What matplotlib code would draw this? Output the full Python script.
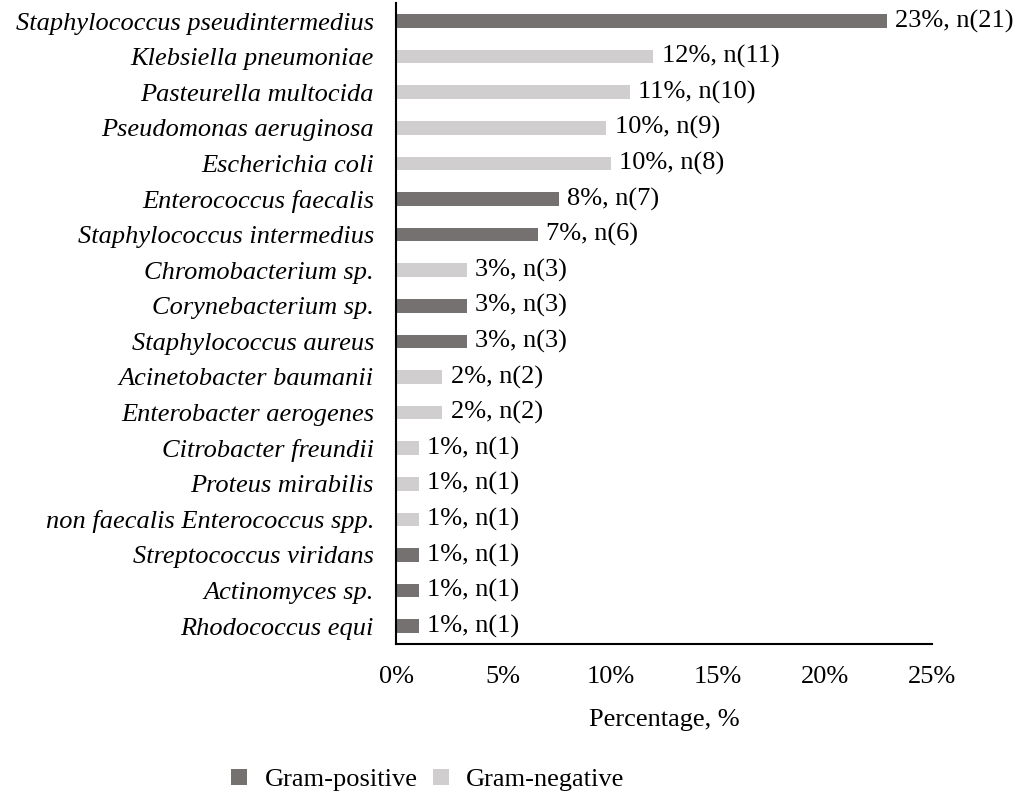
import matplotlib
matplotlib.use("Agg")
import matplotlib.pyplot as plt
from matplotlib.patches import Patch

# Isolates ordered top to bottom
species = [
    "Staphylococcus pseudintermedius",
    "Klebsiella pneumoniae",
    "Pasteurella multocida",
    "Pseudomonas aeruginosa",
    "Escherichia coli",
    "Enterococcus faecalis",
    "Staphylococcus intermedius",
    "Chromobacterium sp.",
    "Corynebacterium sp.",
    "Staphylococcus aureus",
    "Acinetobacter baumanii",
    "Enterobacter aerogenes",
    "Citrobacter freundii",
    "Proteus mirabilis",
    "non faecalis Enterococcus spp.",
    "Streptococcus viridans",
    "Actinomyces sp.",
    "Rhodococcus equi",
]
percent = [22.9, 12.0, 10.9, 9.8, 10.0, 7.6, 6.6, 3.3, 3.3, 3.3,
           2.15, 2.15, 1.07, 1.07, 1.07, 1.07, 1.07, 1.07]
counts = [21, 11, 10, 9, 8, 7, 6, 3, 3, 3, 2, 2, 1, 1, 1, 1, 1, 1]
gram = ["pos", "neg", "neg", "neg", "neg", "pos", "pos", "neg", "pos", "pos",
        "neg", "neg", "neg", "neg", "neg", "pos", "pos", "pos"]
value_labels = ["23%", "12%", "11%", "10%", "10%", "8%", "7%", "3%", "3%", "3%",
                "2%", "2%", "1%", "1%", "1%", "1%", "1%", "1%"]
xticks = [0, 5, 10, 15, 20, 25]
xtick_labels = ["0%", "5%", "10%", "15%", "20%", "25%"]

POS_COLOR = "#767171"
NEG_COLOR = "#D0CECE"
FS = 19

plt.rcParams["font.family"] = ["Liberation Serif", "DejaVu Serif"]

fig = plt.figure(figsize=(10.29, 8.09), dpi=100)
ax = fig.add_axes([0.385, 0.204, 0.5209, 0.792])

ypos = list(range(len(species)))[::-1]
colors = [POS_COLOR if g == "pos" else NEG_COLOR for g in gram]
ax.barh(ypos, percent, height=0.38, color=colors, zorder=2)

for y, v, lab, n in zip(ypos, percent, value_labels, counts):
    ax.annotate(f"{lab}, n({n})", xy=(v, y), xytext=(6, 0),
                textcoords="offset points", va="center", ha="left",
                fontsize=FS, clip_on=False, annotation_clip=False)

ax.set_xlim(0, 25)
ax.set_ylim(-0.5, len(species) - 0.5)
ax.set_yticks(ypos)
ax.set_yticklabels(species, fontstyle="italic", fontsize=FS)
ax.set_xticks(xticks)
ax.set_xticklabels(xtick_labels, fontsize=FS)
ax.tick_params(axis="both", length=0)
ax.tick_params(axis="y", pad=16)
ax.tick_params(axis="x", pad=16)
ax.set_xlabel("Percentage, %", fontsize=FS, labelpad=15)

for side in ("top", "right"):
    ax.spines[side].set_visible(False)
for side in ("left", "bottom"):
    ax.spines[side].set_linewidth(1.5)
    ax.spines[side].set_color("black")

handles = [Patch(facecolor=POS_COLOR, label="Gram-positive"),
           Patch(facecolor=NEG_COLOR, label="Gram-negative")]
fig.legend(handles=handles, loc="center", bbox_to_anchor=(428 / 1029, 1 - 780 / 809),
           ncol=2, frameon=False, fontsize=FS, handlelength=0.6, handleheight=0.6,
           handletextpad=0.65, columnspacing=0.6)

fig.savefig("out.png", dpi=100)
